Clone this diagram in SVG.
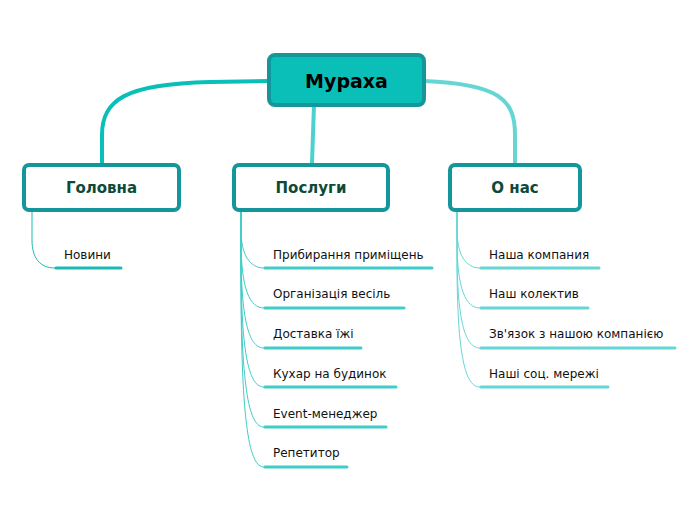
<svg xmlns="http://www.w3.org/2000/svg" width="696" height="520" viewBox="0 0 696 520">
<style>
.main{fill:#fff;stroke:#14969a;stroke-width:4}
.mt{font-family:"DejaVu Sans",sans-serif;font-weight:bold;font-size:15px;fill:#0d4a38;text-anchor:middle}
.lt{font-family:"DejaVu Sans",sans-serif;font-size:12px;fill:#111}
.th{fill:none;stroke-width:4;stroke-linecap:round}
.tn{fill:none;stroke-width:1}
.ul{stroke-width:3;stroke-linecap:round}
</style>
<rect width="696" height="520" fill="#fff"/>
<g id="connectors">
<path class="th" stroke="#0abfb8" d="M269,81 L210,82 C125,84 102,100 102,135 L102,163"/>
<path class="th" stroke="#4dd0ce" d="M314,105 L312,163"/>
<path class="th" stroke="#66d6d4" d="M424,81 C500,84 515,100 515,135 L515,163"/>
<g stroke="#1ab9b3">
<path class="tn" d="M32,210 L32,240 C32,258 40,268 55,268"/>
<line class="ul" x1="56" y1="268" x2="121" y2="268"/>
</g>
<g stroke="#3ecdc8">
<path class="tn" d="M241,210 L241,230 C241,255 250,268 264,268"/>
<path class="tn" d="M241,210 L241,240 C241,290 250,308 264,308"/>
<path class="tn" d="M241,210 L241,250 C241,325 250,348 264,348"/>
<path class="tn" d="M241,210 L241,260 C241,360 250,387 264,387"/>
<path class="tn" d="M241,210 L241,270 C241,395 250,427 264,427"/>
<path class="tn" d="M241,210 L241,280 C241,430 250,467 264,467"/>
<line class="ul" x1="265" y1="268" x2="432" y2="268"/>
<line class="ul" x1="265" y1="308" x2="404" y2="308"/>
<line class="ul" x1="265" y1="348" x2="361" y2="348"/>
<line class="ul" x1="265" y1="387" x2="396" y2="387"/>
<line class="ul" x1="265" y1="427" x2="386" y2="427"/>
<line class="ul" x1="265" y1="467" x2="347" y2="467"/>
</g>
<g stroke="#66d6d4">
<path class="tn" d="M457,210 L457,230 C457,255 466,268 480,268"/>
<path class="tn" d="M457,210 L457,240 C457,290 466,308 480,308"/>
<path class="tn" d="M457,210 L457,250 C457,325 466,348 480,348"/>
<path class="tn" d="M457,210 L457,260 C457,360 466,387 480,387"/>
<line class="ul" x1="481" y1="268" x2="599" y2="268"/>
<line class="ul" x1="481" y1="308" x2="588" y2="308"/>
<line class="ul" x1="481" y1="348" x2="675" y2="348"/>
<line class="ul" x1="481" y1="387" x2="608" y2="387"/>
</g>
</g>
<g id="root">
<rect x="269" y="55" width="155" height="50" rx="6" fill="#0abfb8" stroke="#14969a" stroke-width="4"/>
<text x="346.5" y="88" font-family="DejaVu Sans,sans-serif" font-weight="bold" font-size="19" text-anchor="middle" fill="#000">Мураха</text>
</g>
<g id="n-golovna"><rect class="main" x="24" y="165" width="155" height="45" rx="5"/><text class="mt" x="101.5" y="193">Головна</text></g>
<g id="n-posluhy"><rect class="main" x="234" y="165" width="154" height="45" rx="5"/><text class="mt" x="311" y="193">Послуги</text></g>
<g id="n-onas"><rect class="main" x="450" y="165" width="130" height="45" rx="5"/><text class="mt" x="515" y="193">О нас</text></g>
<g id="leaf-novyny"><text class="lt" x="64" y="259">Новини</text></g>
<g id="leaf-p1"><text class="lt" x="273" y="259">Прибирання приміщень</text></g>
<g id="leaf-p2"><text class="lt" x="273" y="298">Організація весіль</text></g>
<g id="leaf-p3"><text class="lt" x="273" y="338">Доставка їжі</text></g>
<g id="leaf-p4"><text class="lt" x="273" y="378">Кухар на будинок</text></g>
<g id="leaf-p5"><text class="lt" x="273" y="418">Event-менеджер</text></g>
<g id="leaf-p6"><text class="lt" x="273" y="457">Репетитор</text></g>
<g id="leaf-o1"><text class="lt" x="489" y="259">Наша компания</text></g>
<g id="leaf-o2"><text class="lt" x="489" y="298">Наш колектив</text></g>
<g id="leaf-o3"><text class="lt" x="489" y="338">Зв'язок з нашою компанією</text></g>
<g id="leaf-o4"><text class="lt" x="489" y="378">Наші соц. мережі</text></g>
</svg>
